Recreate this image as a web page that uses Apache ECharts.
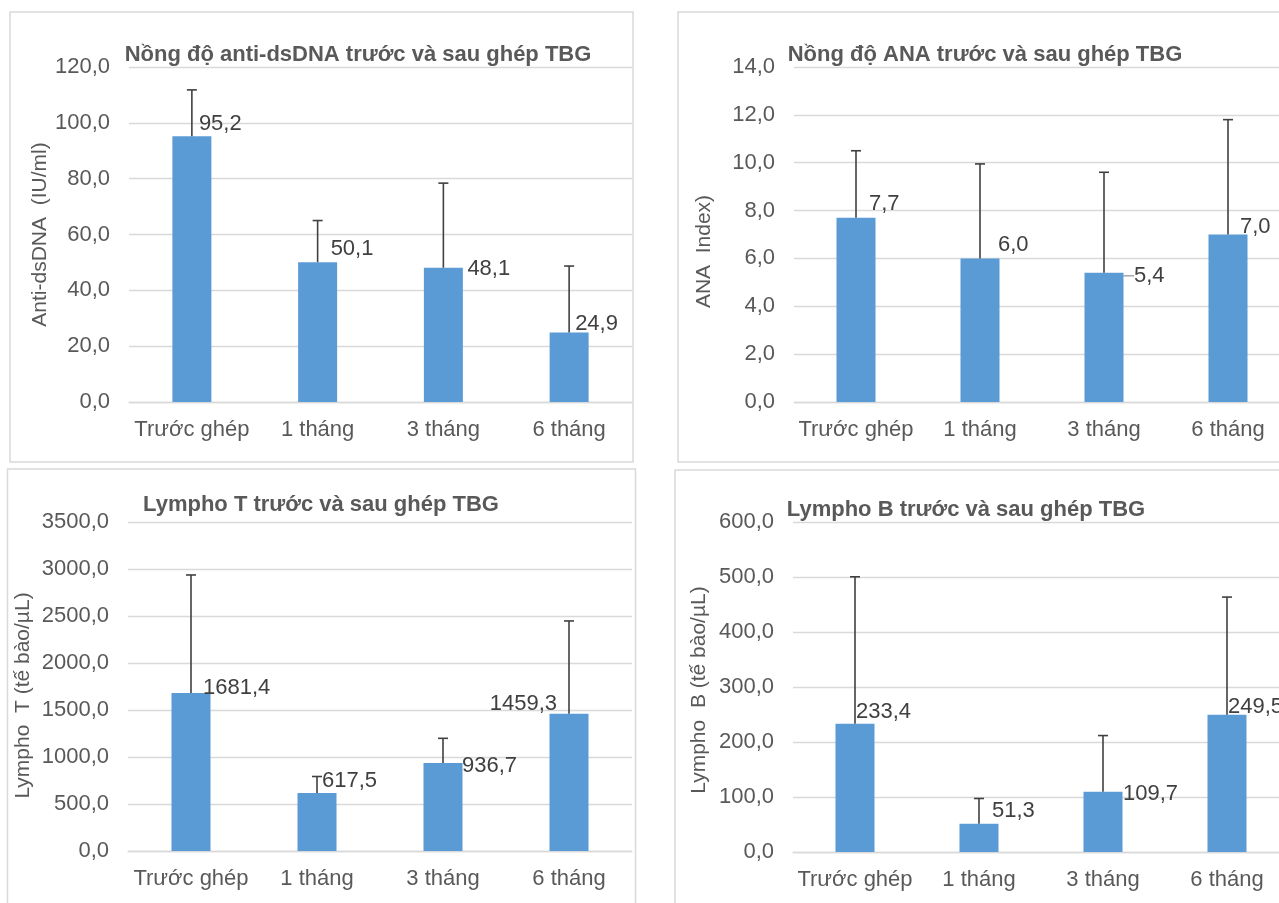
<!DOCTYPE html>
<html>
<head>
<meta charset="utf-8">
<script src="https://cdn.jsdelivr.net/npm/echarts@6/dist/echarts.min.js"></script>
<style>
  html, body { margin: 0; padding: 0; background: #ffffff; overflow: hidden; width: 1279px; height: 903px; }
  #chart { width: 1320px; height: 903px; }
</style>
</head>
<body>
<div id="chart"></div>
<script>
// ---- data ----
const categories = ['Trước ghép', '1 tháng', '3 tháng', '6 tháng'];

const dsdnaTitle = 'Nồng độ anti-dsDNA trước và sau ghép TBG';
const dsdnaAxisName = 'Anti-dsDNA  (IU/ml)';
const dsdnaMean = [95.2, 50.1, 48.1, 24.9];
const dsdnaSD = [16.6, 14.9, 30.3, 23.8];
const dsdnaTicks = { max: 120, interval: 20 };

const anaTitle = 'Nồng độ ANA trước và sau ghép TBG';
const anaAxisName = 'ANA  Index)';
const anaMean = [7.7, 6.0, 5.4, 7.0];
const anaSD = [2.8, 3.95, 4.2, 4.8];
const anaTicks = { max: 14, interval: 2 };

const tTitle = 'Lympho T trước và sau ghép TBG';
const tAxisName = 'Lympho  T (tế bào/µL)';
const tMean = [1681.4, 617.5, 936.7, 1459.3];
const tSD = [1255, 175, 262, 988];
const tTicks = { max: 3500, interval: 500 };

const bTitle = 'Lympho B trước và sau ghép TBG';
const bAxisName = 'Lympho  B (tế bào/µL)';
const bMean = [233.4, 51.3, 109.7, 249.5];
const bSD = [267, 46, 102, 214];
const bTicks = { max: 600, interval: 100 };

// ---- style ----
const BAR_COLOR = '#5B9BD5';
const TEXT = '#595959';
const LABEL = '#404040';
const GRID = '#d9d9d9';
const FONT = '"Liberation Sans", Arial, sans-serif';
const BAR_W = 39;
const FS = 22;

const panels = [
  { title: dsdnaTitle, name: dsdnaAxisName, mean: dsdnaMean, sd: dsdnaSD, ticks: dsdnaTicks,
    grid: { left: 129, top: 67, width: 503, height: 335 }, titlePos: [353, 39], nameGap: 77, namePad: 0,
    lab: [[7, -12, 'left'], [13, -13, 'left'], [24, 1, 'left'], [6, -9, 'left']] },
  { title: anaTitle, name: anaAxisName, mean: anaMean, sd: anaSD, ticks: anaTicks,
    grid: { left: 794, top: 67, width: 496, height: 335 }, titlePos: [980, 39], nameGap: 79, namePad: 34,
    lab: [[13, -14, 'left'], [18, -13, 'left'], [30, 3, 'left', true], [12, -8, 'left']] },
  { title: tTitle, name: tAxisName, mean: tMean, sd: tSD, ticks: tTicks,
    grid: { left: 128, top: 522, width: 504, height: 329 }, titlePos: [316, 489], nameGap: 94, namePad: 18,
    lab: [[12, -5, 'left'], [5, -12, 'left'], [19, 3, 'left'], [-12, -10, 'right']] },
  { title: bTitle, name: bAxisName, mean: bMean, sd: bSD, ticks: bTicks,
    grid: { left: 793, top: 522, width: 496, height: 330 }, titlePos: [961, 494], nameGap: 83, namePad: 6,
    lab: [[1, -12, 'left'], [13, -13, 'left'], [20, 2, 'left'], [1, -8, 'left']] }
];

const fmt = v => Number(v).toFixed(1).replace('.', ',');

const option = {
  backgroundColor: '#ffffff',
  animation: false,
  textStyle: { fontFamily: FONT },
  title: panels.map(p => ({
    text: p.title, left: p.titlePos[0], top: p.titlePos[1], textAlign: 'center',
    textStyle: { fontFamily: FONT, fontSize: FS, fontWeight: 'bold', color: TEXT }
  })),
  grid: panels.map(p => Object.assign({ containLabel: false }, p.grid)),
  xAxis: panels.map((p, i) => ({
    type: 'category', gridIndex: i, data: categories,
    axisLine: { show: true, lineStyle: { color: GRID, width: 1.3 } },
    axisTick: { show: false },
    axisLabel: { color: TEXT, fontSize: FS, fontFamily: FONT, margin: 17, interval: 0 }
  })),
  yAxis: panels.map((p, i) => ({
    type: 'value', gridIndex: i, min: 0, max: p.ticks.max, interval: p.ticks.interval,
    name: p.name, nameLocation: 'middle', nameGap: p.nameGap,
    nameTextStyle: { color: TEXT, fontSize: 21, fontFamily: FONT, padding: [0, p.namePad, 0, 0] },
    axisLine: { show: false }, axisTick: { show: false },
    axisLabel: { color: TEXT, fontSize: FS, fontFamily: FONT, margin: 19, formatter: fmt },
    splitLine: { lineStyle: { color: GRID, width: 1.3 } }
  })),
  series: [],
  graphic: [
    { type: 'rect', shape: { x: 10, y: 12, width: 623, height: 450 }, style: { fill: 'none', stroke: GRID, lineWidth: 1.5 }, silent: true },
    { type: 'rect', shape: { x: 678, y: 12, width: 700, height: 450 }, style: { fill: 'none', stroke: GRID, lineWidth: 1.5 }, silent: true },
    { type: 'rect', shape: { x: 7.5, y: 469, width: 628, height: 500 }, style: { fill: 'none', stroke: GRID, lineWidth: 1.5 }, silent: true },
    { type: 'rect', shape: { x: 675, y: 470, width: 700, height: 500 }, style: { fill: 'none', stroke: GRID, lineWidth: 1.5 }, silent: true }
  ]
};

panels.forEach((p, i) => {
  option.series.push({
    type: 'bar', xAxisIndex: i, yAxisIndex: i, barWidth: BAR_W,
    itemStyle: { color: BAR_COLOR },
    data: p.mean.map((v, k) => {
      const l = p.lab[k];
      const item = {
        value: v,
        label: {
          show: true, position: [BAR_W / 2 + l[0], l[1]], align: l[2], verticalAlign: 'middle',
          formatter: d => fmt(d.value), color: LABEL, fontSize: FS, fontFamily: FONT
        }
      };
      if (l[3]) item.labelLine = { show: true, lineStyle: { color: '#a6a6a6', width: 1.5 } };
      return item;
    }),
    z: 2
  });
  option.series.push({
    type: 'custom', xAxisIndex: i, yAxisIndex: i, z: 5, silent: true,
    data: p.mean.map((v, k) => [k, v, p.sd[k]]),
    encode: { x: 0, y: 1 },
    renderItem: (params, api) => {
      const base = api.coord([api.value(0), api.value(1)]);
      const top = api.coord([api.value(0), api.value(1) + api.value(2)]);
      const st = { stroke: '#404040', lineWidth: 1.6 };
      return {
        type: 'group', children: [
          { type: 'line', shape: { x1: base[0], y1: base[1], x2: top[0], y2: top[1] }, style: st },
          { type: 'line', shape: { x1: top[0] - 5, y1: top[1], x2: top[0] + 5, y2: top[1] }, style: st }
        ]
      };
    }
  });
});

const chart = echarts.init(document.getElementById('chart'), null, { renderer: 'canvas' });
chart.setOption(option);
</script>
</body>
</html>
